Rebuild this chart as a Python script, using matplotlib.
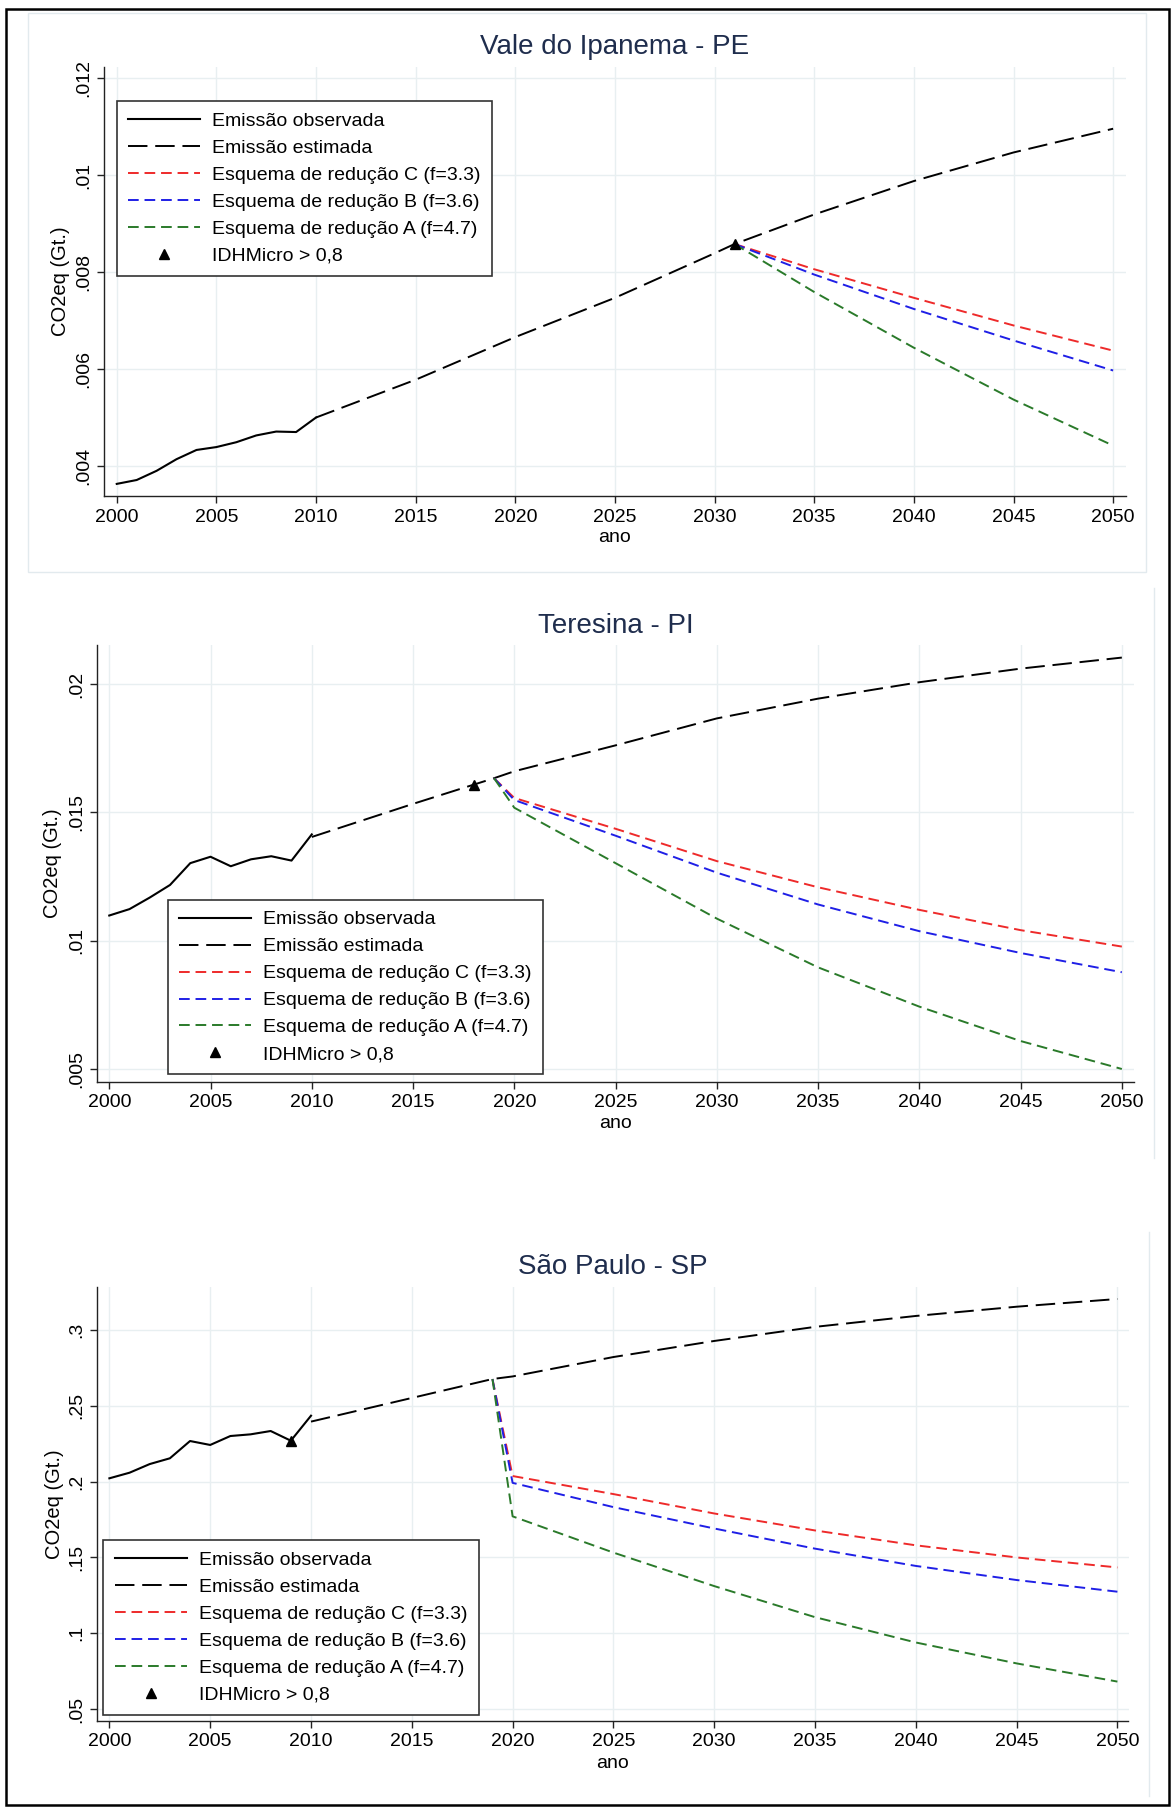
import matplotlib.pyplot as plt
from matplotlib.patches import Rectangle
from matplotlib.lines import Line2D

plt.rcParams['font.family'] = ['Liberation Sans', 'DejaVu Sans']

W, H = 1172, 1811

# ----- data -----
# Vale do Ipanema - PE
vale_obs_years = [2000, 2001, 2002, 2003, 2004, 2005, 2006, 2007, 2008, 2009, 2010]
vale_obs = [0.00363, 0.00371, 0.00390, 0.00414, 0.00433, 0.00439, 0.00449, 0.00463, 0.00471, 0.00470, 0.00500]
vale_est_years = [2010, 2015, 2020, 2025, 2030, 2031, 2035, 2040, 2045, 2050]
vale_est = [0.00500, 0.00578, 0.00666, 0.00747, 0.00839, 0.00858, 0.00919, 0.00988, 0.01047, 0.01096]
vale_red_years = [2031, 2035, 2040, 2045, 2050]
vale_red_c = [0.00858, 0.00806, 0.00747, 0.00690, 0.00638]
vale_red_b = [0.00858, 0.00795, 0.00724, 0.00659, 0.00597]
vale_red_a = [0.00858, 0.00759, 0.00644, 0.00537, 0.00442]
vale_idh = (2031, 0.00858)

# Teresina - PI
ter_obs_years = [2000, 2001, 2002, 2003, 2004, 2005, 2006, 2007, 2008, 2009, 2010]
ter_obs = [0.01098, 0.01123, 0.01168, 0.01217, 0.01302, 0.01327, 0.01290, 0.01317, 0.01329, 0.01312, 0.01414]
ter_est_years = [2010, 2015, 2018, 2019, 2020, 2025, 2030, 2035, 2040, 2045, 2050]
ter_est = [0.01404, 0.01533, 0.01608, 0.01633, 0.01660, 0.01761, 0.01866, 0.01943, 0.02007, 0.02060, 0.02103]
ter_red_years = [2019, 2020, 2025, 2030, 2035, 2040, 2045, 2050]
ter_red_c = [0.01633, 0.01556, 0.01436, 0.01310, 0.01208, 0.01120, 0.01041, 0.00977]
ter_red_b = [0.01633, 0.01548, 0.01409, 0.01265, 0.01141, 0.01037, 0.00952, 0.00877]
ter_red_a = [0.01633, 0.01518, 0.01302, 0.01086, 0.00896, 0.00743, 0.00609, 0.00500]
ter_idh = (2018, 0.01608)

# São Paulo - SP
sp_obs_years = [2000, 2001, 2002, 2003, 2004, 2005, 2006, 2007, 2008, 2009, 2010]
sp_obs = [0.2022, 0.2059, 0.2116, 0.2154, 0.2268, 0.2242, 0.2301, 0.2312, 0.2334, 0.2270, 0.2435]
sp_est_years = [2010, 2015, 2019, 2020, 2025, 2030, 2035, 2040, 2045, 2050]
sp_est = [0.2396, 0.2552, 0.2677, 0.2694, 0.2822, 0.2928, 0.3021, 0.3093, 0.3154, 0.3205]
sp_red_years = [2019, 2020, 2025, 2030, 2035, 2040, 2045, 2050]
sp_red_c = [0.2677, 0.2037, 0.1918, 0.1790, 0.1678, 0.1580, 0.1500, 0.1434]
sp_red_b = [0.2677, 0.1992, 0.1832, 0.1691, 0.1558, 0.1444, 0.1351, 0.1274]
sp_red_a = [0.2677, 0.1771, 0.1532, 0.1311, 0.1106, 0.0939, 0.0801, 0.0681]
sp_idh = (2009, 0.2270)

titles = ["Vale do Ipanema - PE", "Teresina - PI", "São Paulo - SP"]
x_ticks = [2000, 2005, 2010, 2015, 2020, 2025, 2030, 2035, 2040, 2045, 2050]
vale_yticks = [0.004, 0.006, 0.008, 0.010, 0.012]
vale_ylabels = [".004", ".006", ".008", ".01", ".012"]
ter_yticks = [0.005, 0.010, 0.015, 0.020]
ter_ylabels = [".005", ".01", ".015", ".02"]
sp_yticks = [0.05, 0.10, 0.15, 0.20, 0.25, 0.30]
sp_ylabels = [".05", ".1", ".15", ".2", ".25", ".3"]

legend_labels = ["Emissão observada", "Emissão estimada",
                 "Esquema de redução C (f=3.3)", "Esquema de redução B (f=3.6)",
                 "Esquema de redução A (f=4.7)", "IDHMicro > 0,8"]

red_c_color = "#ee2a2a"
red_b_color = "#1f1fe6"
red_a_color = "#2a7a2a"
title_color = "#1f2d4d"
grid_color = "#e8eff1"
axis_color = "#222222"

# layout in pixels: axes (left, top, right, bottom), xlim, ylim, title y, xlabel y, ylabel x, legend (left, top)
panels = [
    dict(obs=(vale_obs_years, vale_obs), est=(vale_est_years, vale_est),
         red=(vale_red_years, vale_red_c, vale_red_b, vale_red_a), idh=vale_idh,
         yt=vale_yticks, yl=vale_ylabels,
         box=(104, 66.7, 1125.7, 496), xlim=(1999.36, 2050.63), ylim=(0.00338, 0.01224),
         ty=47, ay=538, yx=61, leg=(116.7, 101)),
    dict(obs=(ter_obs_years, ter_obs), est=(ter_est_years, ter_est),
         red=(ter_red_years, ter_red_c, ter_red_b, ter_red_a), idh=ter_idh,
         yt=ter_yticks, yl=ter_ylabels,
         box=(96.7, 645, 1134.2, 1081.7), xlim=(1999.38, 2050.61), ylim=(0.004505, 0.02152),
         ty=626, ay=1123, yx=52, leg=(167.7, 899.6)),
    dict(obs=(sp_obs_years, sp_obs), est=(sp_est_years, sp_est),
         red=(sp_red_years, sp_red_c, sp_red_b, sp_red_a), idh=sp_idh,
         yt=sp_yticks, yl=sp_ylabels,
         box=(96.7, 1286.7, 1128.5, 1721), xlim=(1999.37, 2050.55), ylim=(0.0421, 0.3286),
         ty=1266.5, ay=1763, yx=54, leg=(103.3, 1540)),
]


def px_rect(l, t, r, b):
    return [l / W, 1 - b / H, (r - l) / W, (b - t) / H]


fig = plt.figure(figsize=(W / 100, H / 100), dpi=100)
fig.patch.set_facecolor("white")

for i, p in enumerate(panels):
    ax = fig.add_axes(px_rect(*p["box"]))
    yrs, c, b, a = p["red"]
    h_est, = ax.plot(*p["est"], color="black", lw=1.4, ls=(0, (10, 4)), zorder=3)
    h_c, = ax.plot(yrs, c, color=red_c_color, lw=1.4, ls=(0, (5.5, 3)), zorder=4)
    h_b, = ax.plot(yrs, b, color=red_b_color, lw=1.4, ls=(0, (5.5, 3)), zorder=4)
    h_a, = ax.plot(yrs, a, color=red_a_color, lw=1.4, ls=(0, (5.5, 3)), zorder=4)
    h_obs, = ax.plot(*p["obs"], color="black", lw=1.5, zorder=5)
    h_idh, = ax.plot([p["idh"][0]], [p["idh"][1]], ls="none", marker="^",
                     color="black", markersize=7.5, zorder=6)

    ax.set_xlim(*p["xlim"])
    ax.set_ylim(*p["ylim"])
    ax.set_xticks(x_ticks)
    ax.set_yticks(p["yt"])
    ax.set_yticklabels(p["yl"])
    ax.grid(True, color=grid_color, lw=1.0)
    ax.set_axisbelow(True)

    for s in ["top", "right"]:
        ax.spines[s].set_visible(False)
    for s in ["left", "bottom"]:
        ax.spines[s].set_color(axis_color)
        ax.spines[s].set_linewidth(1.0)

    ax.tick_params(axis="both", direction="out", length=5, width=1.0,
                   color=axis_color, labelsize=14, labelcolor="black")
    ax.tick_params(axis="x", pad=4)
    ax.tick_params(axis="y", pad=3.5, labelrotation=90)
    for lab in ax.get_yticklabels():
        lab.set_va("center")

    l, t, r, bt = p["box"]
    cx = (l + r) / 2
    fig.text(cx / W, 1 - p["ty"] / H, titles[i], ha="center", va="center",
             fontsize=20, color=title_color)
    fig.text(cx / W, 1 - p["ay"] / H, "ano", ha="center", va="center", fontsize=14)
    fig.text(p["yx"] / W, 1 - ((t + bt) / 2) / H, "CO2eq (Gt.)", rotation=90,
             ha="center", va="center", fontsize=14.5)

    leg = ax.legend([h_obs, h_est, h_c, h_b, h_a, h_idh], legend_labels,
                    loc="upper left", bbox_to_anchor=(p["leg"][0] / W, 1 - p["leg"][1] / H),
                    bbox_transform=fig.transFigure, fontsize=14, frameon=True,
                    fancybox=False, framealpha=1, edgecolor="#333333",
                    handlelength=3.7, handletextpad=0.64, labelspacing=0.48,
                    borderpad=0.58, borderaxespad=0, numpoints=1)
    leg.get_frame().set_linewidth(1.2)

# light frames around the panels
fig.add_artist(Rectangle((28 / W, 1 - 571.7 / H), (1145.7 - 28) / W, (571.7 - 12.7) / H,
                         transform=fig.transFigure, fill=False, edgecolor="#e2eaee", lw=1.0))
fig.add_artist(Line2D([1153.8 / W, 1153.8 / W], [1 - 587.7 / H, 1 - 1157.9 / H],
                      transform=fig.transFigure, color="#e2eaee", lw=1.0))
fig.add_artist(Line2D([1149 / W, 1149 / W], [1 - 1232.3 / H, 1 - 1795.7 / H],
                      transform=fig.transFigure, color="#e2eaee", lw=1.0))

# outer black border
fig.add_artist(Rectangle((5.5 / W, 1 - 1805 / H), (1168.5 - 5.5) / W, (1805 - 9.2) / H,
                         transform=fig.transFigure, fill=False, edgecolor="black", lw=1.8))

fig.savefig("out.png", dpi=100)
